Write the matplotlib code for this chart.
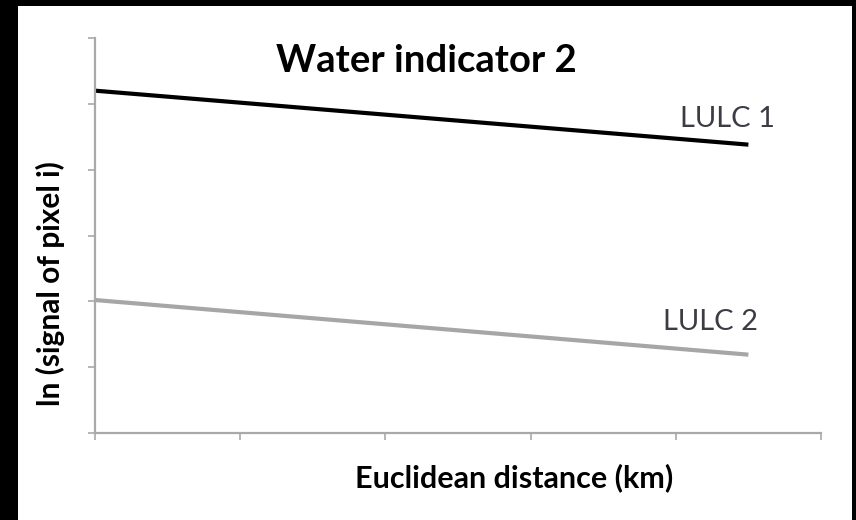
import matplotlib
matplotlib.use("Agg")
import matplotlib.pyplot as plt
from matplotlib.patches import Rectangle

# Declining signal with distance for two land-use classes
distance = [0.0, 4.5]
lulc1 = [5.2, 4.38]
lulc2 = [2.02, 1.19]
x_ticks = [0, 1, 2, 3, 4, 5]
y_ticks = [0, 1, 2, 3, 4, 5, 6]

plt.rcParams['font.family'] = ['Lato', 'DejaVu Sans']

W, H = 856, 520
fig = plt.figure(figsize=(W / 100, H / 100), dpi=100, facecolor='black')

# white panel inside the black frame
fig.patches.append(Rectangle((18 / W, 0), (852 - 18) / W, (520 - 6) / H,
                             transform=fig.transFigure, facecolor='white',
                             edgecolor='none', zorder=-1))

ax = fig.add_axes([95 / W, (H - 433) / H, (821 - 95) / W, (433 - 38) / H])
ax.set_facecolor('none')

axis_grey = '#a9a9a9'
ax.plot(distance, lulc1, color='black', lw=3.0, solid_capstyle='butt')
ax.plot(distance, lulc2, color='#a6a6a6', lw=3.0, solid_capstyle='butt')

ax.set_xlim(x_ticks[0], x_ticks[-1])
ax.set_ylim(y_ticks[0], y_ticks[-1])
ax.set_xticks(x_ticks)
ax.set_yticks(y_ticks)
ax.set_xticklabels([])
ax.set_yticklabels([])
ax.tick_params(direction='out', length=5, width=1.2, color=axis_grey)
for side in ['top', 'right']:
    ax.spines[side].set_visible(False)
for side in ['left', 'bottom']:
    ax.spines[side].set_color(axis_grey)
    ax.spines[side].set_linewidth(1.6)

ax.text(4.03, 4.65, 'LULC 1', fontsize=21, color='#3c3c44', va='baseline')
ax.text(3.91, 1.57, 'LULC 2', fontsize=21, color='#3c3c44', va='baseline')

fig.text(426 / W, 1 - 72 / H, 'Water indicator 2', fontsize=27.5,
         fontweight='bold', ha='center', va='baseline')
fig.text(514 / W, 1 - 478 / H, 'Euclidean distance (km)', fontsize=22,
         fontweight='bold', ha='center', va='center')
fig.text(50 / W, 1 - 284 / H, 'ln (signal of pixel i)', fontsize=21.5,
         fontweight='bold', ha='center', va='center', rotation=90)

fig.savefig('out.png', dpi=100, facecolor='black')
